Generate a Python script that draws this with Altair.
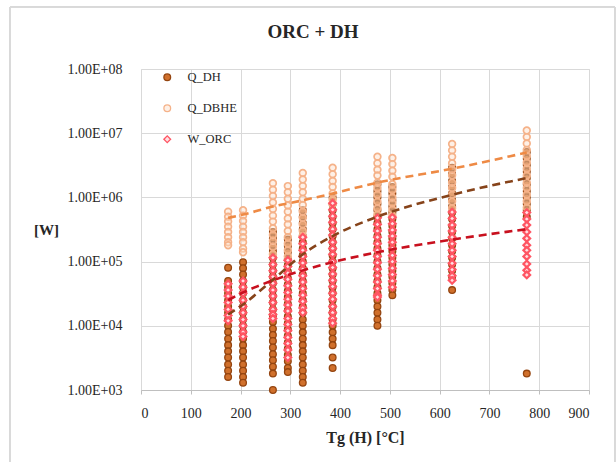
import altair as alt
import pandas as pd

# Ground temperature classes (°C) and the thermal/electric powers (W) per class
Q_DH = {
    175: [8.0e4, 5.0e4, 4.0e4, 3.2e4, 2.5e4, 2.0e4, 1.6e4, 1.25e4, 1.0e4, 8.0e3, 6.3e3,
          5.0e3, 4.0e3, 3.2e3, 2.5e3, 2.0e3, 1.6e3],
    205: [9.8e4, 7.9e4, 6.3e4, 5.0e4, 4.0e4, 3.2e4, 2.5e4, 2.0e4, 1.6e4, 1.25e4, 1.0e4,
          8.0e3, 6.3e3, 5.0e3, 4.0e3, 3.2e3, 2.5e3, 2.0e3, 1.6e3, 1.3e3],
    265: [2.9e5, 2.3e5, 1.8e5, 1.45e5, 1.15e5, 9.0e4, 7.2e4, 5.8e4, 4.6e4, 3.6e4, 2.9e4,
          2.3e4, 1.8e4, 1.45e4, 1.15e4, 9.0e3, 7.2e3, 5.8e3, 4.6e3, 3.6e3, 2.9e3, 2.3e3,
          1.8e3, 1.0e3],
    295: [2.2e5, 1.75e5, 1.4e5, 1.1e5, 8.8e4, 7.0e4, 5.5e4, 4.4e4, 3.5e4, 2.8e4, 2.2e4,
          1.75e4, 1.4e4, 1.1e4, 8.8e3, 7.0e3, 5.5e3, 4.4e3, 3.5e3, 2.8e3, 2.2e3, 1.9e3],
    325: [6.3e5, 5.0e5, 4.0e5, 3.2e5, 2.5e5, 2.0e5, 1.6e5, 1.25e5, 1.0e5, 7.9e4, 6.3e4,
          5.0e4, 4.0e4, 3.2e4, 2.5e4, 2.0e4, 1.6e4, 1.25e4, 1.0e4, 7.9e3, 6.3e3, 5.0e3,
          4.0e3, 3.2e3, 2.5e3, 2.0e3, 1.6e3, 1.3e3],
    385: [1.0e6, 7.9e5, 6.3e5, 5.0e5, 4.0e5, 3.2e5, 2.5e5, 2.0e5, 1.6e5, 1.25e5, 1.0e5,
          7.9e4, 6.3e4, 5.0e4, 4.0e4, 3.2e4, 2.5e4, 2.0e4, 1.6e4, 1.25e4, 1.0e4, 7.9e3,
          6.3e3, 5.0e3, 3.2e3, 2.2e3],
    475: [1.6e6, 1.25e6, 1.0e6, 7.9e5, 6.3e5, 5.0e5, 4.0e5, 3.2e5, 2.5e5, 2.0e5, 1.6e5,
          1.25e5, 1.0e5, 7.9e4, 6.3e4, 5.0e4, 4.0e4, 3.2e4, 2.5e4, 2.0e4, 1.6e4, 1.25e4,
          1.0e4],
    505: [1.45e6, 1.15e6, 9.0e5, 7.2e5, 5.8e5, 4.6e5, 3.6e5, 2.9e5, 2.3e5, 1.8e5, 1.45e5,
          1.15e5, 9.0e4, 7.2e4, 5.8e4, 4.6e4, 3.6e4, 3.0e4],
    625: [2.9e6, 2.3e6, 1.8e6, 1.45e6, 1.15e6, 9.0e5, 7.2e5, 5.8e5, 4.6e5, 3.6e5, 2.9e5,
          2.3e5, 1.8e5, 1.45e5, 1.15e5, 9.0e4, 7.2e4, 5.8e4, 3.6e4],
    775: [5.1e6, 4.0e6, 3.2e6, 2.5e6, 2.0e6, 1.6e6, 1.25e6, 1.0e6, 7.9e5, 6.3e5, 5.0e5,
          1.8e3],
}

Q_DBHE = {
    175: [6.0e5, 5.0e5, 4.2e5, 3.5e5, 2.9e5, 2.4e5, 2.0e5, 1.8e5],
    205: [6.3e5, 5.2e5, 4.3e5, 3.5e5, 2.9e5, 2.4e5, 2.0e5, 1.6e5, 1.4e5],
    265: [1.66e6, 1.32e6, 1.05e6, 8.3e5, 6.6e5, 5.2e5, 4.2e5, 3.3e5, 2.6e5, 2.1e5, 1.7e5,
          1.3e5],
    295: [1.5e6, 1.2e6, 9.5e5, 7.5e5, 6.0e5, 4.7e5, 3.8e5, 3.0e5, 2.4e5, 1.9e5, 1.5e5,
          1.2e5],
    325: [2.4e6, 1.9e6, 1.5e6, 1.2e6, 9.5e5, 7.6e5, 6.0e5, 4.8e5, 3.8e5, 3.0e5, 2.5e5],
    385: [2.9e6, 2.3e6, 1.8e6, 1.45e6, 1.15e6, 9.2e5, 7.9e5],
    475: [4.3e6, 3.4e6, 2.7e6, 2.2e6, 1.7e6, 1.4e6, 1.1e6, 8.6e5, 6.8e5, 5.4e5],
    505: [4.1e6, 3.3e6, 2.6e6, 2.1e6, 1.6e6, 1.3e6, 1.0e6, 8.2e5, 6.5e5, 5.2e5],
    625: [6.8e6, 5.4e6, 4.3e6, 3.4e6, 2.7e6, 2.2e6, 1.7e6, 1.4e6, 1.1e6, 8.6e5, 6.8e5],
    775: [1.1e7, 8.7e6, 6.9e6, 5.5e6, 4.4e6, 3.5e6, 2.8e6, 2.2e6, 1.7e6, 1.4e6, 1.1e6,
          8.7e5, 6.9e5],
}

W_ORC = {
    175: [4.5e4, 3.6e4, 2.9e4, 2.3e4, 1.8e4, 1.45e4, 1.2e4],
    205: [5.0e4, 4.0e4, 3.2e4, 2.5e4, 2.0e4, 1.6e4, 1.25e4, 1.0e4, 8.0e3, 6.8e3],
    265: [1.15e5, 9.0e4, 7.2e4, 5.8e4, 4.6e4, 3.6e4, 2.9e4, 2.3e4, 1.8e4, 1.5e4, 1.3e4],
    295: [1.05e5, 8.4e4, 6.6e4, 5.3e4, 4.2e4, 3.3e4, 2.6e4, 2.1e4, 1.7e4, 1.3e4, 1.05e4,
          8.4e3, 6.6e3, 5.3e3, 4.2e3, 3.2e3],
    325: [2.4e5, 1.9e5, 1.5e5, 1.2e5, 9.5e4, 7.6e4, 6.0e4, 4.8e4, 3.8e4, 3.0e4, 2.4e4,
          1.9e4, 1.6e4],
    385: [8.1e5, 6.4e5, 5.1e5, 4.1e5, 3.2e5, 2.6e5, 2.0e5, 1.6e5, 1.3e5, 1.0e5, 8.1e4,
          6.4e4, 5.1e4, 4.1e4, 3.2e4, 2.6e4, 2.0e4, 1.6e4, 1.3e4, 1.1e4],
    475: [4.8e5, 3.8e5, 3.0e5, 2.4e5, 1.9e5, 1.5e5, 1.2e5, 9.6e4, 7.6e4, 6.0e4, 4.8e4,
          3.8e4, 3.0e4, 2.8e4],
    505: [4.9e5, 3.9e5, 3.1e5, 2.5e5, 2.0e5, 1.6e5, 1.25e5, 1.0e5, 7.9e4, 6.3e4, 5.0e4,
          4.0e4],
    625: [5.9e5, 4.7e5, 3.7e5, 3.0e5, 2.4e5, 1.9e5, 1.5e5, 1.2e5, 9.4e4, 7.5e4, 6.0e4,
          5.1e4],
    775: [5.8e5, 4.6e5, 3.7e5, 2.9e5, 2.3e5, 1.8e5, 1.5e5, 1.2e5, 9.2e4, 7.3e4, 6.2e4],
}

# Trend line levels (W) at the temperature classes
TREND_TG = [175, 205, 265, 325, 385, 475, 625, 775]
TREND_Q_DH = [1.5e4, 2.15e4, 5.2e4, 1.3e5, 2.5e5, 5.0e5, 1.1e6, 2.0e6]
TREND_Q_DBHE = [4.8e5, 5.4e5, 7.2e5, 9.0e5, 1.15e6, 1.7e6, 2.8e6, 5.0e6]
TREND_W_ORC = [2.5e4, 3.3e4, 5.1e4, 7.3e4, 9.8e4, 1.4e5, 2.2e5, 3.2e5]

SERIES = ["Q_DH", "Q_DBHE", "W_ORC"]
FILLS = ["#d0702c", "rgba(252,222,200,0.45)", "#ffdfe2"]
STROKES = ["#94440f", "#f5b289", "#ff5563"]
SHAPES = ["circle", "circle", "diamond"]
STROKE_WIDTHS = [1.3, 1.7, 2.2]
TREND_COLORS = ["#86431a", "#ee8a45", "#c8101e"]
X_TICKS = list(range(0, 1000, 100))
Y_TICKS = [1e3, 1e4, 1e5, 1e6, 1e7, 1e8]

FONT = "Liberation Serif"
TEXT = "#262626"
GRID = "#d9d9d9"

rows = []
for name, table in zip(SERIES, [Q_DH, Q_DBHE, W_ORC]):
    for tg, values in table.items():
        for w in values:
            rows.append({"series": name, "tg": tg, "w": w})
df = pd.DataFrame(rows)

trend_rows = []
for name, levels in zip(SERIES, [TREND_Q_DH, TREND_Q_DBHE, TREND_W_ORC]):
    for tg, w in zip(TREND_TG, levels):
        trend_rows.append({"series": name, "tg": tg, "w": w})
trend_df = pd.DataFrame(trend_rows)

x_enc = alt.X(
    "tg:Q",
    scale=alt.Scale(domain=[0, 900], nice=False),
    axis=alt.Axis(
        values=X_TICKS, title="Tg (H) [°C]", grid=True, gridColor=GRID,
        domainColor="#bfbfbf", tickColor="#bfbfbf", tickSize=4,
        labelFont=FONT, labelFontSize=14, labelColor=TEXT, labelPadding=12,
        titleFont=FONT, titleFontSize=16, titleFontWeight="bold", titleColor=TEXT,
        titleY=47, titleBaseline="middle",
    ),
)
y_enc = alt.Y(
    "w:Q",
    scale=alt.Scale(type="log", domain=[1e3, 1e8], nice=False),
    axis=alt.Axis(
        values=Y_TICKS, title="[W]", grid=True, gridColor=GRID, domain=False,
        ticks=False, labelFont=FONT, labelFontSize=14, labelColor=TEXT,
        labelPadding=19,
        labelExpr="'1.00E+0' + round(log(datum.value) / LN10)",
        titleFont=FONT, titleFontSize=15, titleFontWeight="bold", titleColor=TEXT,
        titleAngle=0, titleX=-95, titleY=160, titleAlign="center",
        titleBaseline="middle",
    ),
)

legend = alt.Legend(
    title=None, orient="none", legendX=20, legendY=2, labelFont=FONT,
    labelFontSize=12.5, labelColor=TEXT, rowPadding=18, symbolSize=45,
    symbolStrokeWidth=1.3, labelOffset=14,
)

# One point layer per series, drawn in legend order so W_ORC sits on top
point_layers = []
for name, sw in zip(SERIES, STROKE_WIDTHS):
    point_layers.append(
        alt.Chart(df)
        .transform_filter(alt.datum.series == name)
        .mark_point(size=45, strokeWidth=sw, filled=False, opacity=1)
        .encode(
            x=x_enc,
            y=y_enc,
            fill=alt.Fill("series:N", scale=alt.Scale(domain=SERIES, range=FILLS),
                          legend=legend),
            stroke=alt.Stroke("series:N", scale=alt.Scale(domain=SERIES, range=STROKES),
                              legend=legend),
            shape=alt.Shape("series:N", scale=alt.Scale(domain=SERIES, range=SHAPES),
                            legend=legend),
        )
    )

# Dashed trend line for each series
trend_layers = []
for name, color in zip(SERIES, TREND_COLORS):
    trend_layers.append(
        alt.Chart(trend_df)
        .transform_filter(alt.datum.series == name)
        .mark_line(color=color, strokeWidth=2.6, strokeDash=[8, 5],
                   interpolate="monotone")
        .encode(x="tg:Q", y="w:Q")
    )

# Outer chart frame
frame = alt.Chart(df).mark_rect(
    fill="transparent", stroke="#d9d9d9", strokeWidth=1, clip=False
).encode(
    x=alt.value(-131), x2=alt.value(474), y=alt.value(-62), y2=alt.value(420)
)

chart = (
    alt.layer(frame, *point_layers, *trend_layers)
    .properties(
        width=448,
        height=321,
        autosize=alt.AutoSizeParams(type="none"),
        padding={"left": 141, "top": 69, "right": 27, "bottom": 72},
        title=alt.TitleParams(
            "ORC + DH", font=FONT, fontSize=19, fontWeight="bold", color=TEXT,
            anchor="middle", dx=-52, offset=-35,
        ),
    )
    .configure_view(stroke=None)
    .configure(background="white")
)

chart.save("out.html", embed_options={"renderer": "svg", "actions": False})
